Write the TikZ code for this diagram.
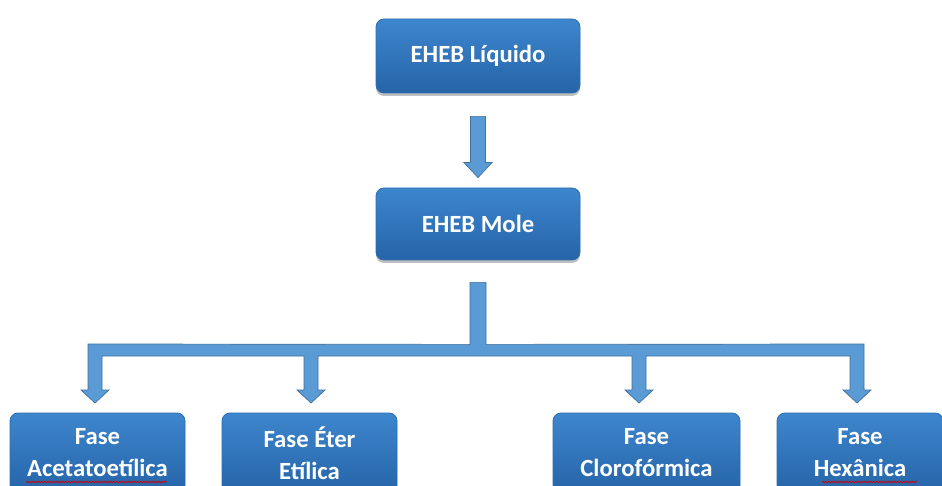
\documentclass[tikz,border=0pt]{standalone}
\usepackage{fontspec}
\setmainfont{Carlito}
\usetikzlibrary{calc,shadows,decorations.pathmorphing}

\definecolor{boxtop}{HTML}{3D86CD}
\definecolor{boxbot}{HTML}{2664A8}
\definecolor{boxedge}{HTML}{2C6EB3}
\definecolor{arrfill}{HTML}{5B9BD5}
\definecolor{arredge}{HTML}{41719C}

\tikzset{
  stagebox/.style={rounded corners=8pt, top color=boxtop, bottom color=boxbot,
    draw=boxedge, line width=0.8pt, text=white,
    font=\bfseries\fontsize{24.7}{32}\selectfont, align=center,
    inner sep=0pt,
    drop shadow={shadow xshift=0pt, shadow yshift=-3pt, opacity=0.25, fill=black}},
  blockarrow/.style={fill=arrfill, draw=arredge, line width=0.7pt, line join=miter},
  spellmark/.style={draw=red!80!black, line width=0.7pt,
    decorate, decoration={snake, amplitude=0.9pt, segment length=3pt}}
}

\begin{document}
\begin{tikzpicture}[x=1pt, y=-1pt]
  \useasboundingbox (0,0) rectangle (942,486);
  \clip (0,0) rectangle (942,486);
  \fill[white] (0,0) rectangle (942,486);

  % stage boxes
  \node[stagebox, minimum width=204pt, minimum height=74pt] (liq) at (478,56) {EHEB Líquido};
  \node[stagebox, minimum width=204pt, minimum height=72pt] (mole) at (478,224) {EHEB Mole};
  \node[stagebox, minimum width=175pt, minimum height=80pt] (acet) at (97.5,453) {Fase\\Acetatoetílica};
  \node[stagebox, minimum width=175pt, minimum height=80pt] (eter) at (309.5,453) {Fase Éter\\Etílica};
  \node[stagebox, minimum width=187pt, minimum height=80pt] (cloro) at (646.5,453) {Fase\\Clorofórmica};
  \node[stagebox, minimum width=166pt, minimum height=80pt] (hexa) at (860,453) {Fase\\Hexânica};

  % arrow from EHEB Líquido to EHEB Mole
  \coordinate (a1) at ($(liq.south)+(0,23)$);
  \coordinate (a1tip) at ($(mole.north)+(0,-10)$);
  \draw[blockarrow] ($(a1)+(-7.5,0)$) -- ($(a1)+(7.5,0)$) -- ($(a1tip)+(7.5,-15)$)
    -- ($(a1tip)+(14,-15)$) -- (a1tip) -- ($(a1tip)+(-14,-15)$)
    -- ($(a1tip)+(-7.5,-15)$) -- cycle;

  % branching connector from EHEB Mole to the four phases
  \coordinate (stem) at ($(mole.south)+(0,22)$);
  \coordinate (t1) at (95,403);
  \coordinate (t2) at (311,403);
  \coordinate (t3) at (639,403);
  \coordinate (t4) at (857,403);
  \draw[blockarrow]
    ($(stem)+(-8,0)$) -- ($(stem)+(8,0)$) -- ($(stem)+(8,62)$)
    -- ($(t4)+(7,-59)$) -- ($(t4)+(7,-13)$) -- ($(t4)+(14,-13)$) -- (t4)
    -- ($(t4)+(-14,-13)$) -- ($(t4)+(-7,-13)$) -- ($(t4)+(-7,-47)$)
    -- ($(t3)+(7,-47)$) -- ($(t3)+(7,-13)$) -- ($(t3)+(14,-13)$) -- (t3)
    -- ($(t3)+(-14,-13)$) -- ($(t3)+(-7,-13)$) -- ($(t3)+(-7,-47)$)
    -- ($(t2)+(7,-47)$) -- ($(t2)+(7,-13)$) -- ($(t2)+(14,-13)$) -- (t2)
    -- ($(t2)+(-14,-13)$) -- ($(t2)+(-7,-13)$) -- ($(t2)+(-7,-47)$)
    -- ($(t1)+(7,-47)$) -- ($(t1)+(7,-13)$) -- ($(t1)+(14,-13)$) -- (t1)
    -- ($(t1)+(-14,-13)$) -- ($(t1)+(-7,-13)$) -- ($(t1)+(-7,-59)$)
    -- ($(stem)+(-8,62)$) -- cycle;

  % spell-check underlines
  \coordinate (s1a) at (26,482); \coordinate (s1b) at (167,482);
  \coordinate (s2a) at (822,482); \coordinate (s2b) at (917,482);
  \draw[spellmark] (s1a) -- (s1b);
  \draw[spellmark] (s2a) -- (s2b);
\end{tikzpicture}
\end{document}
